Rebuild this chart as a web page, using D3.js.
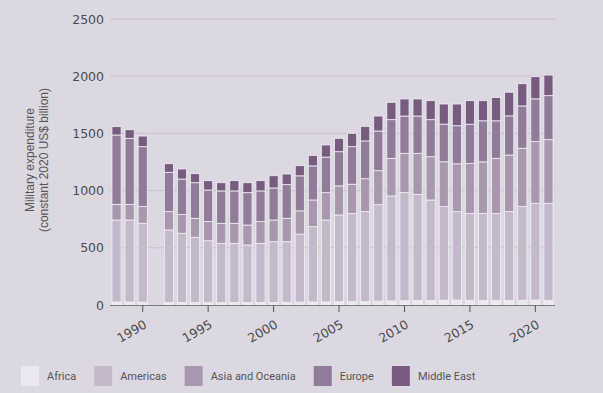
<!DOCTYPE html>
<html>
<head>
<meta charset="utf-8">
<script src="https://cdn.jsdelivr.net/npm/d3@7"></script>
<style>
  html, body { margin: 0; padding: 0; background: #dcd8e1; }
  #chart { width: 603px; height: 393px; }
</style>
</head>
<body>
<div id="chart"></div>
<script>
// years (1991 has no data)
const years = [1988, 1989, 1990, 1992, 1993, 1994, 1995, 1996, 1997, 1998, 1999, 2000,
  2001, 2002, 2003, 2004, 2005, 2006, 2007, 2008, 2009, 2010, 2011, 2012, 2013,
  2014, 2015, 2016, 2017, 2018, 2019, 2020, 2021];

const africa = [26, 26, 25, 22, 21, 21, 20, 20, 21, 21, 22, 23, 24, 25, 26, 27, 28, 29, 31,
  34, 36, 37, 38, 40, 42, 43, 42, 41, 40, 41, 42, 43, 41];
const americas = [717, 717, 689, 634, 606, 571, 542, 519, 518, 503, 517, 530, 529, 595, 659,
  716, 759, 772, 785, 843, 917, 945, 929, 878, 818, 773, 759, 760, 761, 775, 818, 846, 848];
const asiaOceania = [137, 137, 146, 160, 163, 166, 167, 175, 175, 175, 190, 190, 205, 203,
  233, 239, 254, 255, 288, 297, 329, 344, 359, 378, 392, 418, 435, 450, 481, 495, 510, 539, 556];
const europe = [606, 577, 524, 344, 311, 311, 276, 283, 283, 283, 268, 280, 294, 306, 298,
  311, 299, 328, 330, 347, 338, 326, 326, 324, 329, 333, 344, 359, 328, 342, 370, 374, 385];
const middleEast = [73, 75, 93, 75, 88, 79, 82, 72, 90, 87, 90, 107, 93, 89, 92, 106, 117,
  117, 128, 131, 152, 149, 149, 166, 176, 190, 206, 176, 205, 207, 194, 194, 180];

const regions = ["Africa", "Americas", "Asia and Oceania", "Europe", "Middle East"];
const colors = ["#ebe8ef", "#c4b8cb", "#a897ae", "#907c98", "#775c80"];
const yTicks = [0, 500, 1000, 1500, 2000, 2500];
const xTicks = [1990, 1995, 2000, 2005, 2010, 2015, 2020];

const width = 603, height = 393;
const margin = {top: 19, right: 48, bottom: 88, left: 110};

const svg = d3.select("#chart").append("svg")
  .attr("width", width)
  .attr("height", height);

// 数据表
const series = [africa, americas, asiaOceania, europe, middleEast];
const table = years.map((y, i) => {
  const row = {year: y};
  regions.forEach((r, k) => row[r] = series[k][i]);
  return row;
});
const stacked = d3.stack().keys(regions)(table);

// 比例尺
const x = d3.scaleBand()
  .domain(d3.range(1988, 2022))
  .range([margin.left, width - margin.right])
  .paddingInner(0.3)
  .paddingOuter(0.15);
const y = d3.scaleLinear()
  .domain([0, 2500])
  .range([height - margin.bottom, margin.top]);

// 网格线
svg.append("g")
  .selectAll("line")
  .data(yTicks.slice(1))
  .enter().append("line")
  .attr("x1", margin.left)
  .attr("x2", width - margin.right)
  .attr("y1", d => y(d))
  .attr("y2", d => y(d))
  .attr("stroke", "#c8bfd0")
  .attr("stroke-width", 1);

// y 轴标签
svg.append("g")
  .selectAll("text")
  .data(yTicks)
  .enter().append("text")
  .attr("x", margin.left - 6)
  .attr("y", d => y(d))
  .attr("dy", "0.36em")
  .attr("text-anchor", "end")
  .attr("font-family", "DejaVu Sans")
  .attr("font-size", "12.5px")
  .attr("fill", "#4a4a4a")
  .text(d => d);

// 堆叠柱
svg.append("g")
  .selectAll("g")
  .data(stacked)
  .enter().append("g")
  .attr("fill", (d, i) => colors[i])
  .selectAll("rect")
  .data(d => d)
  .enter().append("rect")
  .attr("x", d => x(d.data.year))
  .attr("width", x.bandwidth())
  .attr("y", d => y(d[1]))
  .attr("height", d => y(d[0]) - y(d[1]))
  .attr("stroke", "#f2f0f4")
  .attr("stroke-width", 0.8);

// x 轴
const xAxisY = y(0);
svg.append("line")
  .attr("x1", margin.left)
  .attr("x2", width - margin.right)
  .attr("y1", xAxisY + 0.5)
  .attr("y2", xAxisY + 0.5)
  .attr("stroke", "#7a7a7a")
  .attr("stroke-width", 1);

const xt = svg.append("g")
  .selectAll("g")
  .data(xTicks)
  .enter().append("g")
  .attr("transform", d => `translate(${x(d) + x.bandwidth() / 2}, ${xAxisY})`);
xt.append("line")
  .attr("y1", 0)
  .attr("y2", 7)
  .attr("stroke", "#555")
  .attr("stroke-width", 1);
xt.append("text")
  .attr("transform", "translate(5, 22) rotate(-30)")
  .attr("text-anchor", "end")
  .attr("font-family", "DejaVu Sans")
  .attr("font-size", "12.5px")
  .attr("fill", "#4a4a4a")
  .text(d => d);

// y 轴标题
const yTitle = svg.append("text")
  .attr("transform", `translate(36, 160) rotate(-90)`)
  .attr("text-anchor", "middle")
  .attr("font-family", "Liberation Sans")
  .attr("font-size", "12px")
  .attr("fill", "#555");
yTitle.append("tspan").attr("x", 0).attr("dy", "-0.2em").text("Military expenditure");
yTitle.append("tspan").attr("x", 0).attr("dy", "1.2em").text("(constant 2020 US$ billion)");

// 图例
const legend = svg.append("g").attr("transform", "translate(21, 366)");
let lx = 0;
regions.forEach((r, i) => {
  const g = legend.append("g").attr("transform", `translate(${lx}, 0)`);
  g.append("rect")
    .attr("width", 18)
    .attr("height", 20)
    .attr("fill", colors[i]);
  const t = g.append("text")
    .attr("x", 26)
    .attr("y", 10)
    .attr("dy", "0.36em")
    .attr("font-family", "Roboto")
    .attr("font-size", "11px")
    .attr("fill", "#555")
    .text(r);
  lx += 26 + t.node().getComputedTextLength() + 18;
});
</script>
</body>
</html>
